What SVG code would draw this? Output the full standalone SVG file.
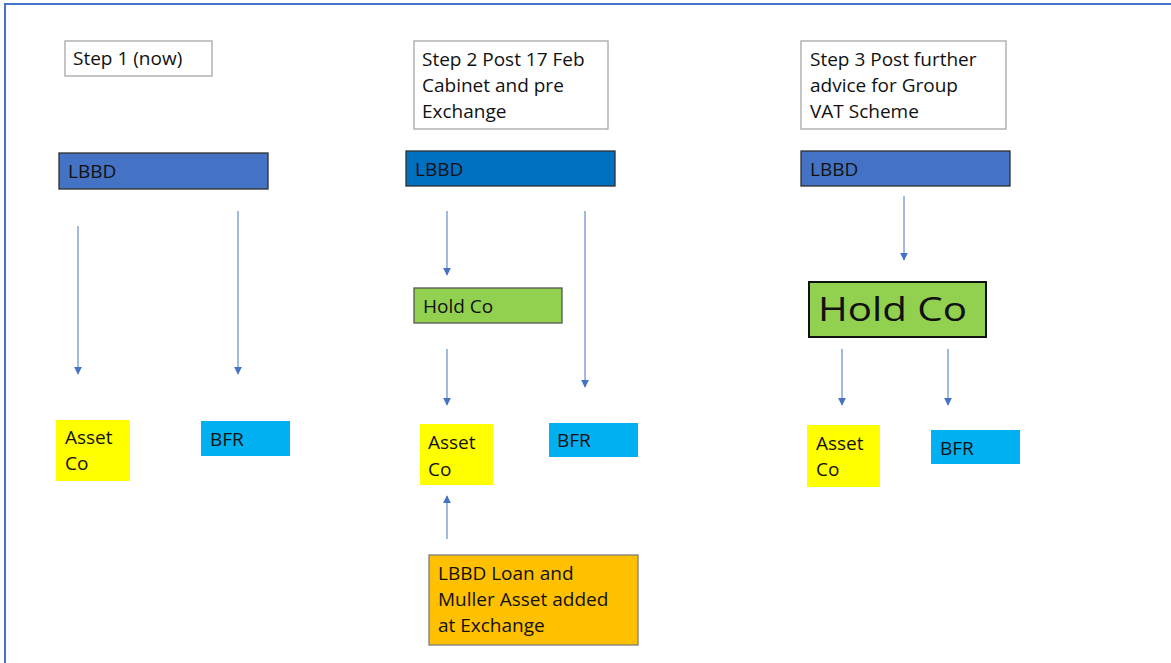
<svg xmlns="http://www.w3.org/2000/svg" width="1171" height="663" viewBox="0 0 1171 663">
<style>
text{font-family:"Open Sans",Lato,"Liberation Sans",sans-serif;font-size:19px;fill:#111}
.box{fill:#fff;stroke:#a6a6a6;stroke-width:1.3}
.lbbd{stroke:#2f2f2f;stroke-width:1.3}
.c{fill:none;stroke:#4472c4;stroke-width:1;marker-end:url(#ah)}
</style>
<defs>
<marker id="ah" viewBox="0 0 10 10" refX="9" refY="5" markerWidth="8" markerHeight="8" markerUnits="userSpaceOnUse" orient="auto">
<path d="M0,0 L10,5 L0,10 z" fill="#4472c4"/>
</marker>
</defs>
<rect x="5" y="4" width="1200" height="700" fill="#fff" stroke="#4472c4" stroke-width="2"/>
<g id="step1"><rect class="box" x="65" y="41" width="147" height="35"/><text x="73" y="65">Step 1 (now)</text></g>
<g id="step2"><rect class="box" x="414" y="41" width="194" height="88"/><text x="422" y="66">Step 2 Post 17 Feb</text><text x="422" y="92">Cabinet and pre</text><text x="422" y="118">Exchange</text></g>
<g id="step3"><rect class="box" x="801" y="41" width="205" height="88"/><text x="810" y="66">Step 3 Post further</text><text x="810" y="92">advice for Group</text><text x="810" y="118">VAT Scheme</text></g>
<g id="lbbd1"><rect class="lbbd" x="59" y="153" width="209" height="36" fill="#4472c4"/><text x="68" y="178">LBBD</text></g>
<g id="lbbd2"><rect class="lbbd" x="406" y="151" width="209" height="35" fill="#0070c0"/><text x="415" y="176">LBBD</text></g>
<g id="lbbd3"><rect class="lbbd" x="801" y="151" width="209" height="35" fill="#4472c4"/><text x="810" y="176">LBBD</text></g>
<g id="asset1"><rect x="56" y="420" width="74" height="61" fill="#ffff00"/><text x="65" y="444">Asset</text><text x="65" y="470">Co</text></g>
<g id="bfr1"><rect x="201" y="421" width="89" height="35" fill="#00b0f0"/><text x="210" y="446">BFR</text></g>
<g id="holdco2"><rect x="414" y="288" width="148" height="35" fill="#92d050" stroke="#555" stroke-width="1.3"/><text x="423" y="313">Hold Co</text></g>
<g id="asset2"><rect x="420" y="424" width="73" height="61" fill="#ffff00"/><text x="428" y="449">Asset</text><text x="428" y="476">Co</text></g>
<g id="bfr2"><rect x="549" y="423" width="89" height="34" fill="#00b0f0"/><text x="557" y="447">BFR</text></g>
<g id="loan2"><rect x="429" y="555" width="209" height="90" fill="#ffc000" stroke="#7f7f7f" stroke-width="1.3"/><text x="438" y="580">LBBD Loan and</text><text x="438" y="606">Muller Asset added</text><text x="438" y="632">at Exchange</text></g>
<g id="holdco3"><rect x="809" y="282" width="177" height="55" fill="#92d050" stroke="#111" stroke-width="2"/><text x="818" y="321" textLength="149" lengthAdjust="spacingAndGlyphs" style="font-size:32px">Hold Co</text></g>
<g id="asset3"><rect x="807" y="425" width="73" height="62" fill="#ffff00"/><text x="816" y="450">Asset</text><text x="816" y="476">Co</text></g>
<g id="bfr3"><rect x="931" y="430" width="89" height="34" fill="#00b0f0"/><text x="940" y="455">BFR</text></g>
<g id="connectors">
<path class="c" d="M78,226 V374"/>
<path class="c" d="M238,211 V374"/>
<path class="c" d="M447,211 V275"/>
<path class="c" d="M585,211 V387"/>
<path class="c" d="M447,349 V405"/>
<path class="c" d="M447,539 V496"/>
<path class="c" d="M904,196 V260"/>
<path class="c" d="M842,349 V405"/>
<path class="c" d="M948,349 V405"/>
</g>
</svg>
